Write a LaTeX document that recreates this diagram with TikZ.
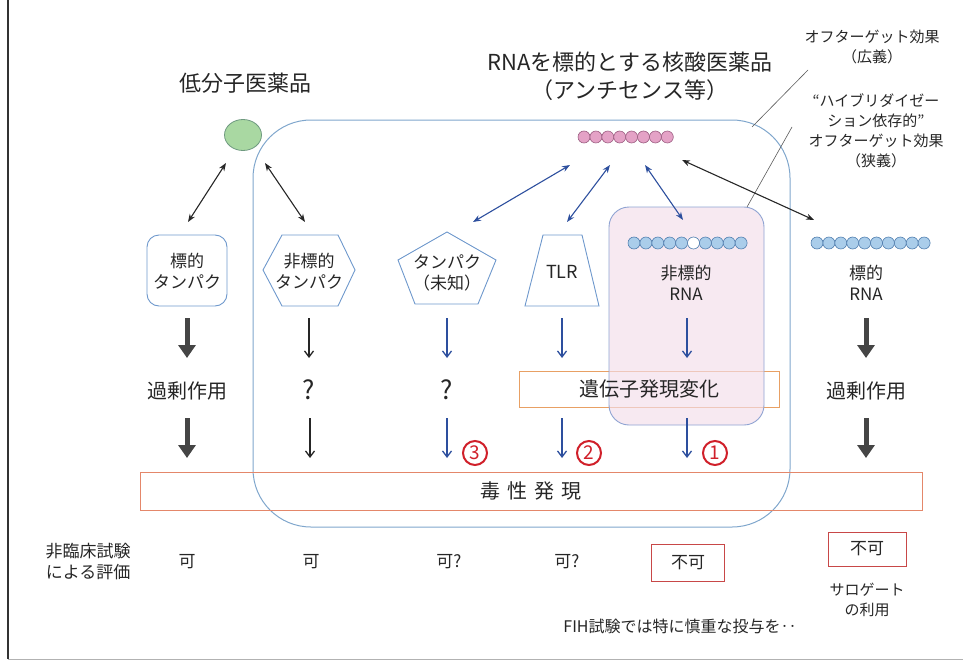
\documentclass[tikz,border=0pt]{standalone}
\usepackage{fontspec}
\setmainfont{Noto Sans CJK JP}
\usetikzlibrary{arrows.meta,shapes.geometric}
\definecolor{boxblue}{HTML}{7FA6CC}
\definecolor{shapeblue}{HTML}{6E98CC}
\definecolor{arrblue}{HTML}{2D4F9E}
\definecolor{thickgray}{HTML}{454545}
\definecolor{pinkfill}{HTML}{F2DDEA}
\definecolor{pinkedge}{HTML}{8FA3D2}
\definecolor{beadpink}{HTML}{E4A2C6}
\definecolor{beadpinkedge}{HTML}{9A5C80}
\definecolor{beadblue}{HTML}{AACDEA}
\definecolor{beadblueedge}{HTML}{4F7DAE}
\definecolor{orangebox}{HTML}{E8A064}
\definecolor{toxbox}{HTML}{E4876A}
\definecolor{nobox}{HTML}{C84848}
\definecolor{numred}{HTML}{D0202A}
\definecolor{greenfill}{HTML}{A9D8A2}
\definecolor{greenedge}{HTML}{6F9A80}
\begin{document}
\begin{tikzpicture}[x=1pt,y=-1pt,
  lbl/.style={font=\fontsize{17}{21}\selectfont, align=center, inner sep=0pt, text=black!85},
  big/.style={font=\fontsize{22}{28}\selectfont, align=center, inner sep=0pt, text=black!85},
  mid/.style={font=\fontsize{20}{24}\selectfont, align=center, inner sep=0pt, text=black!85},
  note/.style={font=\fontsize{15}{20}\selectfont, align=center, inner sep=0pt, text=black!85},
  shapeline/.style={draw=shapeblue, line width=0.9pt},
  dblblk/.style={arrows={Stealth[length=8pt,width=6pt]-Stealth[length=8pt,width=6pt]}, draw=black!85, line width=1.1pt},
  dblblue/.style={arrows={Stealth[length=8pt,width=6pt]-Stealth[length=8pt,width=6pt]}, draw=arrblue, line width=1.1pt},
  thinblk/.style={-{Straight Barb[length=6pt,width=9pt]}, draw=black!85, line width=1.3pt},
  thinblue/.style={-{Straight Barb[length=6pt,width=9pt]}, draw=arrblue, line width=1.3pt},
  thickarr/.style={-{Triangle[length=13pt,width=17pt]}, draw=thickgray, line width=5pt},
  pinkbead/.style={circle, draw=beadpinkedge, fill=beadpink, line width=0.6pt, minimum size=12pt, inner sep=0pt},
  bluebead/.style={circle, draw=beadblueedge, fill=beadblue, line width=0.6pt, minimum size=12pt, inner sep=0pt},
  whitebead/.style={circle, draw=beadblueedge, fill=white, line width=0.6pt, minimum size=12pt, inner sep=0pt},
  numlbl/.style={circle, draw=numred, line width=2pt, minimum size=24pt, inner sep=0pt, font=\fontsize{19}{20}\selectfont, text=numred},
  nobx/.style={draw=nobox, line width=0.9pt, font=\fontsize{17}{21}\selectfont, inner sep=0pt, text=black!85},
  pointer/.style={draw=black!65, line width=0.6pt}
]
\useasboundingbox (0,0) rectangle (963,661);
% frame
\draw[black!80, line width=1.2pt] (8,0) -- (8,659);
\draw[black!30, line width=0.6pt] (8,659) -- (963,659);

% big blue box
\draw[boxblue, line width=1pt, rounded corners=58pt] (253,120) rectangle (790,527);

% orange gene box
\node[draw=orangebox, line width=0.9pt, minimum width=260pt, minimum height=36pt, inner sep=0pt] (gene) at (649,389) {};
% pink box
\fill[pinkfill, opacity=0.65, rounded corners=20pt] (609,207) rectangle (764,425);
\draw[pinkedge, line width=0.9pt, rounded corners=20pt] (609,207) rectangle (764,425);
\node[mid] (genetxt) at (649,389) {遺伝子発現変化};

% toxicity box
\node[draw=toxbox, line width=0.9pt, minimum width=782pt, minimum height=38pt, inner sep=0pt] (tox) at (531,491) {};
\node[mid] at (tox.center) {毒\hspace{0.35em}性\hspace{0.35em}発\hspace{0.35em}現};

% titles
\node[big] (smtitle) at (245,83) {低分子医薬品};
\node[big] (natitle) at (630,76) {RNAを標的とする核酸医薬品\\（アンチセンス等）};
\node[note] (broad) at (872,47) {オフターゲット効果\\（広義）};
\node[note] (narrow) at (876,131) {“ハイブリダイゼー\\ション依存的”\\オフターゲット効果\\（狭義）};
\coordinate (bp1) at (808,70);
\coordinate (bp2) at (752,127);
\coordinate (np1) at (792,127);
\coordinate (np2) at (747,207);
\draw[pointer] (bp1) -- (bp2);
\draw[pointer] (np1) -- (np2);

% small molecule
\node[ellipse, draw=greenedge, fill=greenfill, line width=0.8pt, minimum width=37pt, minimum height=31pt, inner sep=0pt] (sm) at (243,135) {};

% pink chain
\foreach \i in {0,...,7} \node[pinkbead] (pb\i) at (584+\i*11.9,137) {};
% blue chains
\foreach \i in {0,...,9} {
  \ifnum\i=5 \node[whitebead] (nb\i) at (634+\i*11.9,243) {};
  \else \node[bluebead] (nb\i) at (634+\i*11.9,243) {}; \fi
  \node[bluebead] (tb\i) at (817+\i*11.9,243) {};
}

% target nodes
\node[lbl] (tgtP) at (187,271) {標的\\タンパク};
\draw[shapeline, rounded corners=12pt] (147,235) rectangle (227,306);
\node[lbl] (ntP) at (309,271) {非標的\\タンパク};
\draw[shapeline] (263,270) -- (282,235) -- (338,235) -- (355,270) -- (338,306) -- (282,306) -- cycle;
\node[lbl] (unkP) at (447,273) {タンパク\\（未知）};
\draw[shapeline] (447,232) -- (496,260) -- (478,304) -- (415,304) -- (398,260) -- cycle;
\node[lbl, font=\fontsize{18}{21}\selectfont] (tlr) at (562,272) {TLR};
\draw[shapeline] (543,235) -- (582,235) -- (599,306) -- (525,306) -- cycle;
\node[lbl] (ntRNA) at (686,283) {非標的\\RNA};
\node[lbl] (tRNA) at (866,283) {標的\\RNA};

% double arrows
\coordinate (s1) at (226,163); \coordinate (e1) at (188,222);
\coordinate (s2) at (265,163); \coordinate (e2) at (305,222);
\coordinate (s3) at (570,165); \coordinate (e3) at (473,222);
\coordinate (s4) at (610,165); \coordinate (e4) at (567,222);
\coordinate (s5) at (645,165); \coordinate (e5) at (683,220);
\coordinate (s6) at (682,160); \coordinate (e6) at (814,220);
\draw[dblblk] (s1) -- (e1);
\draw[dblblk] (s2) -- (e2);
\draw[dblblue] (s3) -- (e3);
\draw[dblblue] (s4) -- (e4);
\draw[dblblue] (s5) -- (e5);
\draw[dblblk] (s6) -- (e6);

% row 1 arrows
\foreach \n/\x in {a/187,b/309,c/447,d/562,e/687,f/866} {
  \coordinate (r1\n s) at (\x,318); \coordinate (r1\n e) at (\x,358);
}
\draw[thickarr] (r1as) -- (r1ae);
\draw[thinblk] (r1bs) -- (r1be);
\draw[thinblue] (r1cs) -- (r1ce);
\draw[thinblue] (r1ds) -- (r1de);
\draw[thinblue] (r1es) -- (r1ee);
\draw[thickarr] (r1fs) -- (r1fe);

% row 2 texts
\node[mid] (ex1) at (187,391) {過剰作用};
\node[font=\fontsize{26}{28}\selectfont, inner sep=0pt, text=black!85] (q1) at (309,390) {?};
\node[font=\fontsize{26}{28}\selectfont, inner sep=0pt, text=black!85] (q2) at (447,390) {?};
\node[mid] (ex2) at (866,391) {過剰作用};

% row 3 arrows
\foreach \n/\x in {a/187,b/310,c/447,d/562,e/687,f/866} {
  \coordinate (r3\n s) at (\x,418); \coordinate (r3\n e) at (\x,458);
}
\draw[thickarr] (r3as) -- (r3ae);
\draw[thinblk] (r3bs) -- (r3be);
\draw[thinblue] (r3cs) -- (r3ce);
\draw[thinblue] (r3ds) -- (r3de);
\draw[thinblue] (r3es) -- (r3ee);
\draw[thickarr] (r3fs) -- (r3fe);
\node[numlbl] (n3) at (475,453) {3};
\node[numlbl] (n2) at (589,453) {2};
\node[numlbl] (n1) at (715,453) {1};

% bottom row
\node[lbl] (eval) at (88,562) {非臨床試験\\による評価};
\node[lbl] (k1) at (187,562) {可};
\node[lbl] (k2) at (311,562) {可};
\node[lbl] (k3) at (449,562) {可?};
\node[lbl] (k4) at (567,562) {可?};
\node[nobx, minimum width=73pt, minimum height=37pt] (nk1) at (688,563) {不可};
\node[nobx, minimum width=78pt, minimum height=34pt] (nk2) at (867,549) {不可};
\node[note] (surr) at (867,600) {サロゲート\\の利用};
\node[lbl, font=\fontsize{16}{20}\selectfont] (fih) at (680,626) {FIH試験では特に慎重な投与を‥};
\end{tikzpicture}
\end{document}
